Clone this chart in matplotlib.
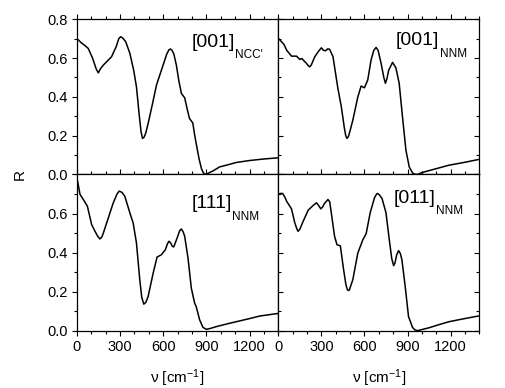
import matplotlib
matplotlib.use("Agg")
import matplotlib.pyplot as plt
from matplotlib.ticker import MultipleLocator, FormatStrFormatter

plt.rcParams['font.family'] = ['Liberation Sans', 'DejaVu Sans']
plt.rcParams['mathtext.fontset'] = 'custom'
plt.rcParams['mathtext.rm'] = 'Liberation Sans'
plt.rcParams['mathtext.it'] = 'Liberation Sans'

# ---- data ----
x_ncc = [0, 30, 58, 80, 110, 135, 150, 165, 185, 242, 275, 292, 305, 320, 340, 369, 395, 415,
         435, 447, 457, 468, 480, 496, 525, 554, 600, 625, 640, 651, 662, 675, 692, 710, 727,
         750, 765, 783, 806, 820, 834, 850, 866, 880, 895, 920, 950, 992, 1050, 1108, 1200,
         1300, 1400]
r_ncc = [0.702, 0.680, 0.664, 0.650, 0.600, 0.545, 0.524, 0.545, 0.564, 0.607, 0.660, 0.700,
         0.710, 0.703, 0.685, 0.625, 0.540, 0.452, 0.300, 0.220, 0.186, 0.192, 0.215, 0.263,
         0.360, 0.461, 0.564, 0.620, 0.642, 0.647, 0.640, 0.620, 0.564, 0.480, 0.418, 0.395,
         0.345, 0.289, 0.266, 0.200, 0.143, 0.080, 0.031, 0.008, 0.0, 0.009, 0.020, 0.039,
         0.050, 0.062, 0.072, 0.080, 0.086]

x_001 = [0, 23, 40, 58, 92, 127, 150, 165, 173, 196, 210, 219, 230, 254, 280, 300, 315, 330,
         345, 358, 381, 415, 439, 460, 470, 478, 488, 498, 519, 554, 577, 600, 623, 646, 665,
         681, 695, 716, 735, 746, 757, 769, 796, 819, 842, 865, 889, 912, 935, 950, 969, 1000,
         1100, 1189, 1300, 1392]
r_001 = [0.702, 0.684, 0.670, 0.641, 0.610, 0.610, 0.593, 0.598, 0.590, 0.573, 0.560, 0.555,
         0.565, 0.607, 0.635, 0.653, 0.640, 0.638, 0.648, 0.645, 0.607, 0.444, 0.349, 0.240,
         0.200, 0.186, 0.195, 0.220, 0.280, 0.400, 0.456, 0.447, 0.487, 0.590, 0.640, 0.655,
         0.640, 0.573, 0.500, 0.470, 0.495, 0.538, 0.578, 0.550, 0.470, 0.297, 0.125, 0.039,
         0.008, 0.002, 0.0, 0.010, 0.030, 0.048, 0.063, 0.077]

x_111 = [0, 10, 23, 46, 74, 104, 127, 145, 161, 175, 185, 208, 254, 280, 295, 315, 334, 369,
         392, 415, 438, 452, 466, 480, 496, 531, 558, 588, 616, 630, 641, 652, 663, 674, 700,
         715, 727, 740, 750, 773, 796, 819, 830, 854, 877, 900, 930, 970, 1050, 1108, 1200,
         1270, 1385, 1400]
r_111 = [0.790, 0.750, 0.698, 0.672, 0.638, 0.543, 0.509, 0.485, 0.470, 0.480, 0.500, 0.552,
         0.655, 0.700, 0.715, 0.708, 0.689, 0.604, 0.552, 0.449, 0.261, 0.170, 0.136, 0.145,
         0.175, 0.295, 0.377, 0.389, 0.415, 0.445, 0.458, 0.450, 0.433, 0.429, 0.480, 0.512,
         0.521, 0.505, 0.483, 0.372, 0.218, 0.141, 0.123, 0.055, 0.017, 0.007, 0.012, 0.021,
         0.036, 0.046, 0.062, 0.075, 0.087, 0.088]

x_011 = [0, 15, 30, 45, 58, 92, 115, 130, 138, 150, 173, 208, 242, 266, 280, 296, 310, 320,
         346, 358, 369, 392, 409, 432, 455, 470, 480, 487, 495, 500, 519, 554, 589, 612, 640,
         670, 685, 692, 705, 723, 750, 773, 790, 803, 812, 825, 838, 850, 861, 884, 907, 935,
         950, 969, 1050, 1110, 1189, 1249, 1320, 1392]
r_011 = [0.698, 0.703, 0.703, 0.685, 0.663, 0.624, 0.552, 0.520, 0.509, 0.520, 0.560, 0.617,
         0.641, 0.655, 0.642, 0.624, 0.635, 0.650, 0.672, 0.660, 0.604, 0.483, 0.440, 0.435,
         0.312, 0.240, 0.212, 0.206, 0.208, 0.220, 0.261, 0.398, 0.466, 0.497, 0.604, 0.681,
         0.700, 0.703, 0.695, 0.676, 0.604, 0.466, 0.370, 0.333, 0.345, 0.390, 0.410, 0.395,
         0.363, 0.226, 0.072, 0.017, 0.005, 0.0, 0.015, 0.029, 0.046, 0.055, 0.065, 0.075]

label_main = ['[001]', '[001]', '[111]', '[011]']
label_sub = ["NCC'", 'NNM', 'NNM', 'NNM']
label_pos = [(796, 0.659), (820, 0.667), (796, 0.629), (801, 0.655)]

x_ticks = [0, 300, 600, 900, 1200]
y_ticks = [0.0, 0.2, 0.4, 0.6, 0.8]

# ---- layout ----
W, H = 505, 388
fig = plt.figure(figsize=(W / 100, H / 100), dpi=100)
xl, xm, xr = 76.7, 278.3, 479.3
yt, ym, yb = 19.3, 174.5, 330.7


def rect(x0, x1, y0, y1):
    return [x0 / W, 1 - y1 / H, (x1 - x0) / W, (y1 - y0) / H]


axes = [
    fig.add_axes(rect(xl, xm, yt, ym)),
    fig.add_axes(rect(xm, xr, yt, ym)),
    fig.add_axes(rect(xl, xm, ym, yb)),
    fig.add_axes(rect(xm, xr, ym, yb)),
]
series = [(x_ncc, r_ncc), (x_001, r_001), (x_111, r_111), (x_011, r_011)]

for i, ax in enumerate(axes):
    xs, ys = series[i]
    ax.plot(xs, ys, color='black', lw=1.1, solid_joinstyle='round')
    ax.set_xlim(0, 1400)
    ax.set_ylim(0, 0.8)
    ax.xaxis.set_major_locator(MultipleLocator(300))
    ax.xaxis.set_minor_locator(MultipleLocator(100))
    ax.yaxis.set_major_locator(MultipleLocator(0.2))
    ax.yaxis.set_minor_locator(MultipleLocator(0.1))
    ax.yaxis.set_major_formatter(FormatStrFormatter('%.1f'))
    for s in ax.spines.values():
        s.set_linewidth(0.9)
    left_col = i % 2 == 0
    bottom_row = i >= 2
    ax.tick_params(which='both', top=True, right=True, width=0.8, labelsize=10.5, pad=3)
    ax.tick_params(axis='x', which='both', direction='out')
    ax.tick_params(axis='y', which='both', direction='out' if left_col else 'in')
    ax.tick_params(which='major', length=3.5)
    ax.tick_params(which='minor', length=2.2)
    if not left_col:
        ax.tick_params(axis='y', labelleft=False)
    if bottom_row:
        ax.set_xticks(x_ticks)
        ax.set_xticklabels([str(t) for t in x_ticks])
        ax.set_xlabel(r'ν [cm$^{\mathregular{-1}}$]', fontsize=11, labelpad=10)
    else:
        ax.tick_params(axis='x', labelbottom=False)
    if left_col and bottom_row:
        ax.set_yticks(y_ticks)
        ax.set_yticklabels(['%.1f' % v for v in y_ticks[:-1]] + [''])
    lx, ly = label_pos[i]
    t = ax.text(lx, ly, label_main[i], fontsize=14, ha='left', va='baseline')
    ax.annotate(label_sub[i], xy=(1, 0), xycoords=t, xytext=(0.5, -5.5),
                textcoords='offset points', fontsize=8.5, ha='left', va='baseline')

fig.text(20 / W, 1 - 174.5 / H, 'R', rotation=90, fontsize=11, ha='center', va='center')

fig.savefig('out.png', dpi=100)
